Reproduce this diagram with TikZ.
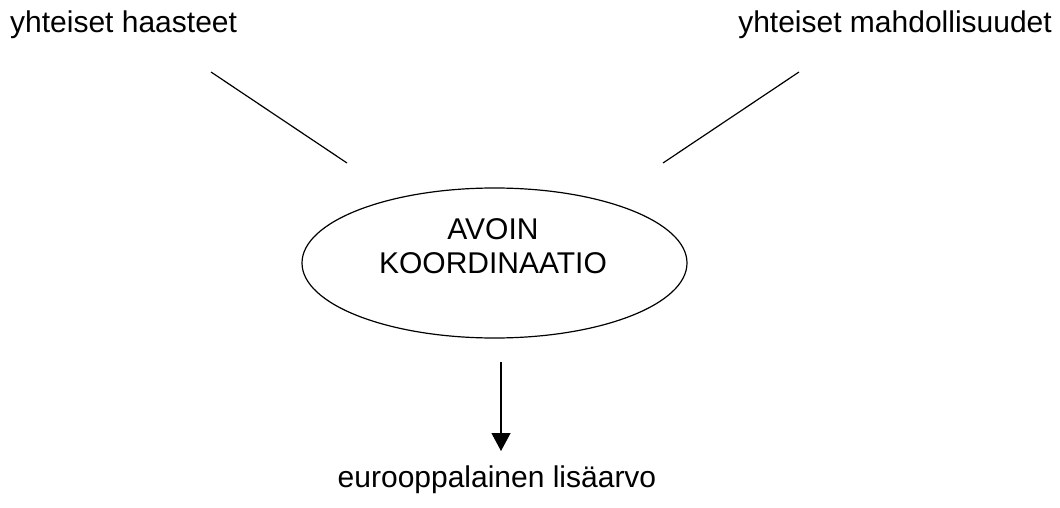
\documentclass[tikz,border=0pt]{standalone}
\usepackage{fontspec}
\setmainfont{Liberation Sans}
\usepackage{tikz}
\usetikzlibrary{shapes.geometric}
\usetikzlibrary{arrows.meta}

\begin{document}
\begin{tikzpicture}[x=1pt,y=-1pt]
            \tikzset{line/.style={line width=1.2pt}};
            \tikzset{label/.style={inner sep=0pt,font=\fontsize{30}{34.5}\selectfont}};
            
            \useasboundingbox (0,0) rectangle (1060,508);
            
            \node[label,anchor=base west] (haasteet) at (10,33) {yhteiset haasteet};
            \node[label,anchor=base east] (mahdollisuudet) at (1052,33) {yhteiset mahdollisuudet};
            
            \node[line,draw,ellipse,minimum width=385pt,minimum height=150pt] (koordinaatio) at (494.5,263) {};
            \node[label,align=center] (avoin) at (493,246) {AVOIN\\KOORDINAATIO};
            
            \node[label,anchor=base] (lisaarvo) at (497,487) {eurooppalainen lisäarvo};
            
            \coordinate (h1) at (211,72);
            \coordinate (h2) at (347,163);
            \draw[line] (h1) -- (h2);
            
            \coordinate (m1) at (799,72);
            \coordinate (m2) at (663,163);
            \draw[line] (m1) -- (m2);
            
            \coordinate (a1) at (501,362);
            \coordinate (a2) at (501,451);
            \draw[line,-{Triangle[width=19pt,length=18pt]}] (a1) -- (a2);
        \end{tikzpicture}
\end{document}
